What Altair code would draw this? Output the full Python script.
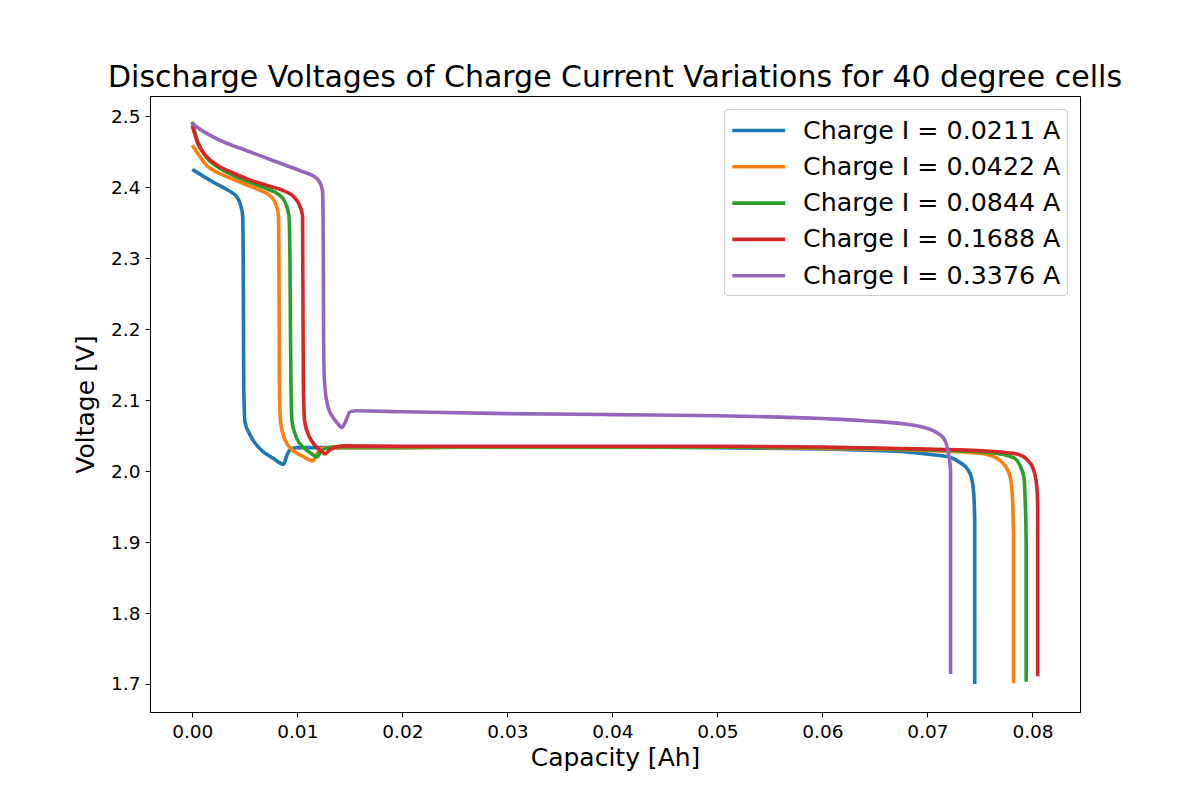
import altair as alt
import pandas as pd

labels = ["Charge I = 0.0211 A", "Charge I = 0.0422 A", "Charge I = 0.0844 A",
          "Charge I = 0.1688 A", "Charge I = 0.3376 A"]
colors = ["#1f77b4", "#ff7f0e", "#2ca02c", "#d62728", "#9467bd"]

cap_0211 = [0, 0.001, 0.002, 0.003, 0.0038, 0.0043, 0.0046, 0.0048, 0.00485, 0.00488, 0.0049,
            0.00495, 0.0050, 0.0055, 0.0064, 0.0077, 0.0087, 0.0090, 0.0094, 0.0100, 0.012,
            0.02, 0.03, 0.04, 0.05, 0.06, 0.065, 0.068, 0.0705, 0.0722, 0.0732, 0.0738, 0.0742,
            0.0744, 0.0745, 0.0745, 0.0745]
v_0211 = [2.425, 2.416, 2.407, 2.399, 2.392, 2.385, 2.375, 2.36, 2.30, 2.20, 2.12,
          2.09, 2.07, 2.051, 2.032, 2.018, 2.0095, 2.022, 2.031, 2.033, 2.033,
          2.033, 2.034, 2.034, 2.033, 2.031, 2.029, 2.027, 2.023, 2.019, 2.011, 2.003, 1.99,
          1.97, 1.93, 1.80, 1.70]

cap_0422 = [0, 0.0005, 0.0014, 0.0025, 0.0039, 0.0052, 0.0065, 0.0074, 0.0079, 0.0082, 0.00825,
            0.00828, 0.0083, 0.0084, 0.0088, 0.0095, 0.0105, 0.0115, 0.0118, 0.0122, 0.013,
            0.02, 0.03, 0.04, 0.05, 0.06, 0.07, 0.075, 0.0767, 0.0775, 0.0779, 0.0781, 0.0782,
            0.0782]
v_0422 = [2.459, 2.448, 2.430, 2.420, 2.411, 2.403, 2.395, 2.388, 2.378, 2.36, 2.30,
          2.20, 2.12, 2.07, 2.045, 2.030, 2.021, 2.0145, 2.022, 2.031, 2.033,
          2.033, 2.034, 2.034, 2.034, 2.032, 2.029, 2.025, 2.017, 2.005, 1.99, 1.96, 1.90,
          1.701]

cap_0844 = [0, 0.0005, 0.0013, 0.0025, 0.004, 0.0058, 0.0072, 0.0082, 0.0088, 0.0092, 0.0093,
            0.00935, 0.0094, 0.0095, 0.0099, 0.0106, 0.0113, 0.0119, 0.0122, 0.0127, 0.0135,
            0.02, 0.03, 0.04, 0.05, 0.06, 0.07, 0.076, 0.0782, 0.0788, 0.0792, 0.0793, 0.0794,
            0.0794]
v_0844 = [2.492, 2.465, 2.443, 2.428, 2.416, 2.405, 2.397, 2.390, 2.380, 2.36, 2.30,
          2.20, 2.12, 2.07, 2.048, 2.033, 2.025, 2.020, 2.027, 2.032, 2.034,
          2.034, 2.034, 2.034, 2.034, 2.033, 2.030, 2.026, 2.019, 2.008, 1.99, 1.96, 1.90,
          1.703]

cap_1688 = [0, 0.0005, 0.0013, 0.0025, 0.0039, 0.0055, 0.0072, 0.0087, 0.0097, 0.0102, 0.0105,
            0.01052, 0.01055, 0.01058, 0.0107, 0.0111, 0.0117, 0.0123, 0.01265, 0.0131, 0.0137,
            0.0145, 0.02, 0.03, 0.04, 0.05, 0.06, 0.07, 0.076, 0.0785, 0.0795, 0.0801, 0.0804,
            0.0805, 0.0805, 0.0805]
v_1688 = [2.487, 2.463, 2.444, 2.430, 2.420, 2.410, 2.402, 2.395, 2.386, 2.375, 2.36,
          2.30, 2.20, 2.12, 2.07, 2.050, 2.036, 2.028, 2.024, 2.030, 2.034,
          2.0355, 2.035, 2.035, 2.035, 2.035, 2.034, 2.031, 2.028, 2.024, 2.016, 2.002, 1.98,
          1.95, 1.85, 1.711]

cap_3376 = [0, 0.0007, 0.0023, 0.0055, 0.0087, 0.0105, 0.0115, 0.0121, 0.0124, 0.01245, 0.01248,
            0.0125, 0.01255, 0.01265, 0.0129, 0.0133, 0.0138, 0.01424, 0.0146, 0.0150, 0.0156,
            0.02, 0.03, 0.04, 0.05, 0.06, 0.064, 0.069, 0.0708, 0.0716, 0.072, 0.0722, 0.0722,
            0.0722]
v_3376 = [2.490, 2.482, 2.4685, 2.4497, 2.432, 2.422, 2.416, 2.408, 2.395, 2.36, 2.30,
          2.20, 2.14, 2.115, 2.092, 2.078, 2.068, 2.0614, 2.07, 2.083, 2.085,
          2.0835, 2.081, 2.0795, 2.078, 2.074, 2.071, 2.0638, 2.055, 2.045, 2.025, 2.00, 1.90,
          1.714]

series = [(cap_0211, v_0211), (cap_0422, v_0422), (cap_0844, v_0844),
          (cap_1688, v_1688), (cap_3376, v_3376)]

rows = []
for lab, (cs, vs) in zip(labels, series):
    for i, (c, v) in enumerate(zip(cs, vs)):
        rows.append({"series": lab, "idx": i, "cap": c, "volt": v})
df = pd.DataFrame(rows)

FONT = "DejaVu Sans"

chart = alt.Chart(df).mark_line(strokeWidth=3.6, interpolate="monotone").encode(
    x=alt.X("cap:Q", title="Capacity [Ah]",
            scale=alt.Scale(domain=[-0.004025, 0.084525], nice=False, zero=False),
            axis=alt.Axis(values=[0, 0.01, 0.02, 0.03, 0.04, 0.05, 0.06, 0.07, 0.08],
                          format=".2f", grid=False, tickSize=5, labelPadding=5,
                          labelFontSize=18.5, titleFontSize=25, titlePadding=5,
                          domainColor="black", tickColor="black", labelColor="black",
                          titleColor="black", titleFontWeight="normal")),
    y=alt.Y("volt:Q", title="Voltage [V]",
            scale=alt.Scale(domain=[1.6605, 2.5285], nice=False, zero=False),
            axis=alt.Axis(values=[1.7, 1.8, 1.9, 2.0, 2.1, 2.2, 2.3, 2.4, 2.5],
                          format=".1f", grid=False, tickSize=5, labelPadding=5,
                          labelFontSize=18.5, titleFontSize=25, titlePadding=12,
                          domainColor="black", tickColor="black", labelColor="black",
                          titleColor="black", titleFontWeight="normal")),
    color=alt.Color("series:N",
                    scale=alt.Scale(domain=labels, range=colors),
                    legend=alt.Legend(title=None, orient="top-right", offset=13,
                                      symbolType="M-1,0H3", symbolSize=702,
                                      symbolStrokeWidth=3.6, symbolFillColor="transparent",
                                      labelFontSize=25.3,
                                      labelLimit=0, rowPadding=7.3, padding=6,
                                      labelOffset=42,
                                      strokeColor="#cccccc", cornerRadius=4,
                                      fillColor="white", labelColor="black",
                                      symbolOffset=0)),
    order="idx:Q",
).properties(
    width=930, height=616,
    title=alt.TitleParams("Discharge Voltages of Charge Current Variations for 40 degree cells",
                          fontSize=30, font=FONT, fontWeight="normal", color="black",
                          anchor="middle", offset=3),
    autosize=alt.AutoSizeParams(type="none"),
    padding={"left": 142, "top": 88, "right": 100, "bottom": 76},
).configure(font=FONT).configure_view(stroke="black", strokeWidth=1).configure_axis(
    labelFont=FONT, titleFont=FONT)

chart.save("out.html", embed_options={"renderer": "svg", "actions": False})
